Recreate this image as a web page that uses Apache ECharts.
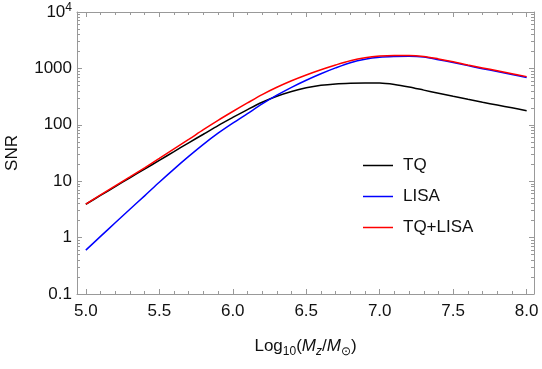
<!DOCTYPE html>
<html>
<head>
<meta charset="utf-8">
<script src="https://cdn.jsdelivr.net/npm/echarts@6/dist/echarts.min.js"></script>
<style>
  html, body { margin: 0; padding: 0; background: #fff; }
  #chart { width: 542px; height: 369px; }
</style>
</head>
<body>
<div id="chart"></div>
<script>
// log10(Mz/Msun)
var mass = [5.0, 5.1, 5.2, 5.3, 5.4, 5.5, 5.6, 5.7, 5.8, 5.9, 6.0, 6.1, 6.2, 6.3, 6.4, 6.5,
  6.6, 6.7, 6.8, 6.9, 7.0, 7.1, 7.2, 7.3, 7.4, 7.5, 7.6, 7.7, 7.8, 7.9, 8.0];
// SNR
var snrTQ = [3.9, 5.6, 8.0, 11.5, 16.4, 23.4, 33.5, 48, 68, 97, 135, 186, 251, 320, 389, 452,
  501, 531, 546, 552, 550, 519, 468, 412, 363, 320, 283, 251, 224, 200, 178];
var snrLISA = [0.6, 1.05, 1.83, 3.18, 5.5, 9.6, 16.4, 27.5, 45, 71, 107, 158, 234, 335, 462, 617,
  804, 1020, 1260, 1450, 1570, 1620, 1640, 1590, 1430, 1270, 1120, 990, 880, 780, 690];
var snrBoth = [3.94, 5.7, 8.25, 11.9, 17.3, 25.3, 37.3, 55, 82, 120, 172, 244, 343, 463, 604, 765,
  947, 1150, 1370, 1550, 1660, 1700, 1700, 1630, 1470, 1310, 1150, 1020, 908, 806, 715];

var xMajor = [5.0, 5.5, 6.0, 6.5, 7.0, 7.5, 8.0];
var xMinor = mass;
var yMinor = [];
for (var n = -1; n < 4; n++) {
  for (var k = 2; k < 10; k++) yMinor.push(n + Math.log10(k));
}

var frameColor = '#999';
var font = 'Liberation Sans, Arial, sans-serif';

function pairs(ys) {
  return mass.map(function (x, i) { return [x, ys[i]]; });
}

function xAx(pos, ticks, len, opts) {
  return Object.assign({
    type: 'value', min: 4.94, max: 8.05, position: pos,
    axisLine: { show: false, onZero: false },
    axisTick: { show: true, inside: true, length: len, customValues: ticks,
      lineStyle: { color: frameColor, width: 1 } },
    axisLabel: { show: false },
    splitLine: { show: false }
  }, opts || {});
}

var chart = echarts.init(document.getElementById('chart'));
chart.setOption({
  animation: false,
  backgroundColor: '#fff',
  textStyle: { fontFamily: font },
  grid: { left: 77, right: 8, top: 12, bottom: 75, containLabel: false, outerBoundsMode: 'none' },
  legend: {
    orient: 'vertical', left: 358, top: 152,
    icon: 'rect', itemWidth: 30, itemHeight: 1.5, itemGap: 14,
    data: ['TQ', 'LISA', 'TQ+LISA'],
    textStyle: { fontSize: 17, lineHeight: 17, color: '#111', fontFamily: font, padding: [0, 0, 0, 5] }
  },
  xAxis: [
    xAx('bottom', xMajor, 5, {
      axisLine: { show: true, onZero: false, lineStyle: { color: frameColor, width: 1 } },
      axisLabel: { show: true, customValues: xMajor, margin: 9, fontSize: 17, color: '#111',
        fontFamily: font, formatter: function (v) { return v.toFixed(1); } },
      name: 'Log{s|10}({i|M}{is|z}/{i|M}{s|⊙})',
      nameLocation: 'middle', nameGap: 40,
      nameTextStyle: {
        fontSize: 17, color: '#111', fontFamily: font,
        rich: {
          s: { fontSize: 12, color: '#111', fontFamily: font, verticalAlign: 'bottom', padding: [12, 0, 0, 0] },
          i: { fontSize: 17, color: '#111', fontFamily: font, fontStyle: 'italic' },
          is: { fontSize: 12, color: '#111', fontFamily: font, fontStyle: 'italic', verticalAlign: 'bottom', padding: [12, 0, 0, 0] }
        }
      }
    }),
    xAx('bottom', xMinor, 3),
    xAx('top', xMajor, 5, {
      axisLine: { show: true, onZero: false, lineStyle: { color: frameColor, width: 1 } }
    }),
    xAx('top', xMinor, 3)
  ],
  yAxis: [
    {
      type: 'log', logBase: 10, min: 0.1, max: 10000, position: 'left',
      axisLine: { show: true, onZero: false, lineStyle: { color: frameColor, width: 1 } },
      axisTick: { show: true, inside: true, length: 5, lineStyle: { color: frameColor } },
      axisLabel: {
        margin: 5, fontSize: 17, color: '#111', fontFamily: font,
        formatter: function (v) {
          if (v >= 9999) return '{b|10}{p|4}';
          if (v < 0.5) return '0.1';
          return String(Math.round(v));
        },
        rich: {
          b: { fontSize: 17, color: '#111', fontFamily: font },
          p: { fontSize: 12, color: '#111', fontFamily: font, verticalAlign: 'top', padding: [0, 0, 8, 0] }
        }
      },
      splitLine: { show: false },
      name: 'SNR', nameLocation: 'middle', nameGap: 56, nameRotate: 90,
      nameTextStyle: { fontSize: 17, color: '#111', fontFamily: font }
    },
    {
      type: 'value', min: -1, max: 4, position: 'left',
      axisLine: { show: false },
      axisTick: { show: true, inside: true, length: 3, customValues: yMinor, lineStyle: { color: frameColor } },
      axisLabel: { show: false }, splitLine: { show: false }
    },
    {
      type: 'log', logBase: 10, min: 0.1, max: 10000, position: 'right',
      axisLine: { show: true, onZero: false, lineStyle: { color: frameColor, width: 1 } },
      axisTick: { show: true, inside: true, length: 5, lineStyle: { color: frameColor } },
      axisLabel: { show: false }, splitLine: { show: false }
    },
    {
      type: 'value', min: -1, max: 4, position: 'right',
      axisLine: { show: false },
      axisTick: { show: true, inside: true, length: 3, customValues: yMinor, lineStyle: { color: frameColor } },
      axisLabel: { show: false }, splitLine: { show: false }
    }
  ],
  series: [
    { name: 'TQ', type: 'line', data: pairs(snrTQ), symbol: 'none', smooth: 0.3,
      color: '#000', lineStyle: { color: '#000', width: 1.5 } },
    { name: 'LISA', type: 'line', data: pairs(snrLISA), symbol: 'none', smooth: 0.3,
      color: '#0000ff', lineStyle: { color: '#0000ff', width: 1.5 } },
    { name: 'TQ+LISA', type: 'line', data: pairs(snrBoth), symbol: 'none', smooth: 0.3,
      color: '#ff0000', lineStyle: { color: '#ff0000', width: 1.5 } }
  ]
});
</script>
</body>
</html>
